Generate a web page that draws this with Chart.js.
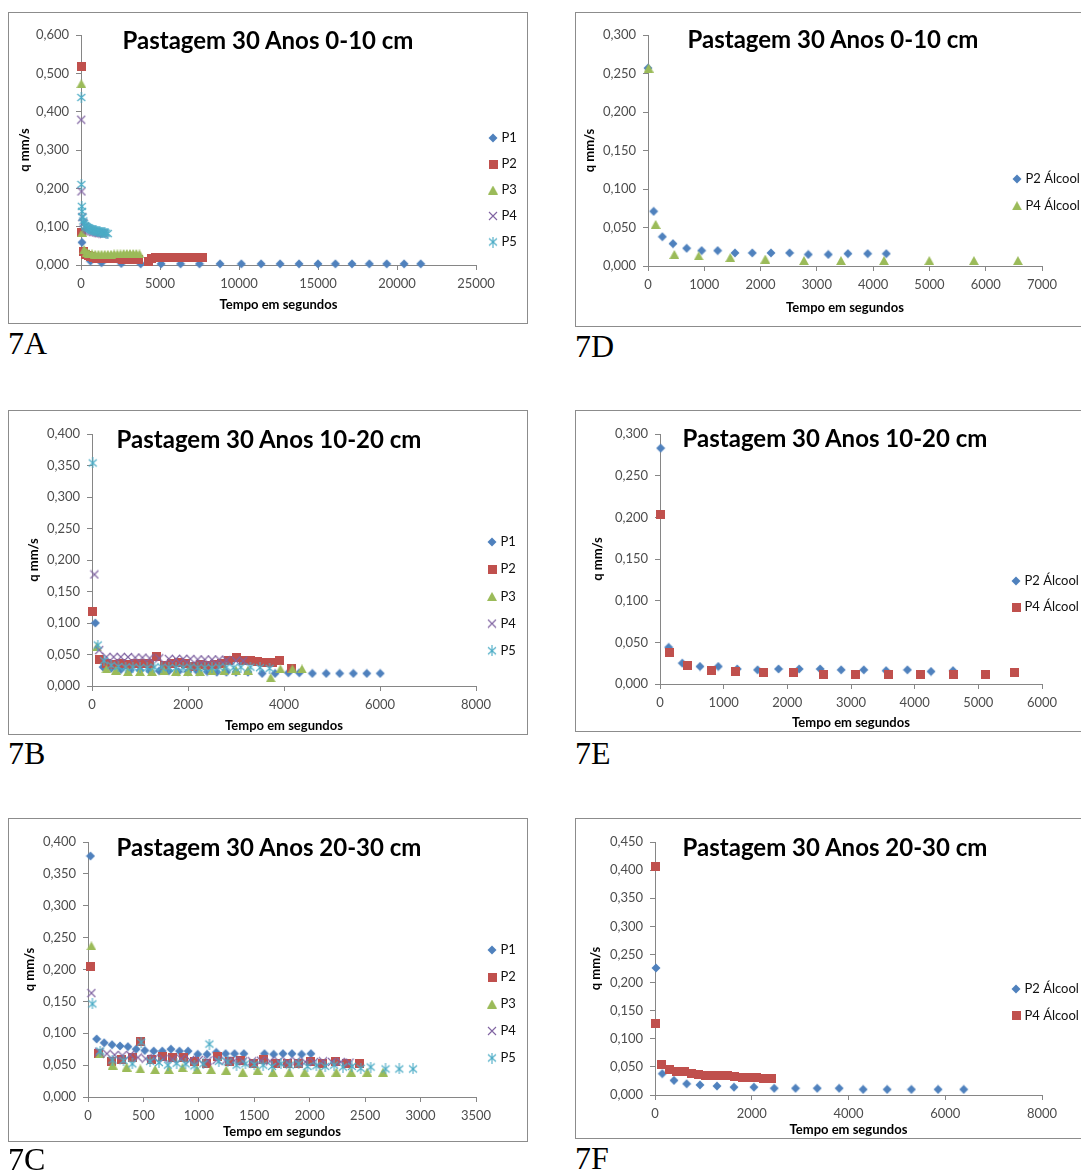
<!DOCTYPE html>
<html>
<head>
<meta charset="utf-8">
<script src="https://cdn.jsdelivr.net/npm/chart.js"></script>
<style>
  html, body { margin: 0; padding: 0; background: #fff; }
  body { position: relative; width: 1081px; height: 1171px; overflow: hidden; }
  canvas.plot { position: absolute; }
  .frame { position: absolute; border: 1px solid #8c8c8c; box-sizing: border-box; pointer-events: none; }
  .ttl { position: absolute; font: bold 24px Lato, sans-serif; line-height: 1; color: #000; white-space: nowrap; transform: translate(-50%, -50%); }
  .fig { position: absolute; font: 32px 'Liberation Serif', serif; line-height: 32px; color: #000; }
</style>
</head>
<body>
<script>
// 7A - Pastagem 30 Anos 0-10 cm (tempo em s, q em mm/s)
const a_p1_t = [60, 600, 1300, 2550, 3780, 5070, 6300, 7500, 8800, 10150, 11400, 12600, 13800, 15000, 16100, 17150, 18250, 19350, 20450, 21500];
const a_p1_q = [0.059, 0.010, 0.006, 0.004, 0.003, 0.003, 0.003, 0.003, 0.003, 0.003, 0.003, 0.003, 0.003, 0.003, 0.003, 0.003, 0.003, 0.003, 0.003, 0.003];
const a_p2_t = [20, 60, 150, 300, 450, 600, 800, 1000, 1200, 1400, 1600, 1800, 2000, 2200, 2400, 2650, 2900, 3150, 3400, 3650, 4250, 4450, 4700, 4950, 5200, 5450, 5700, 5950, 6200, 6450, 6700, 6950, 7200, 7450, 7700];
const a_p2_q = [0.517, 0.085, 0.034, 0.028, 0.024, 0.021, 0.019, 0.018, 0.018, 0.018, 0.017, 0.017, 0.017, 0.016, 0.016, 0.015, 0.014, 0.014, 0.014, 0.014, 0.008, 0.018, 0.019, 0.019, 0.019, 0.019, 0.019, 0.019, 0.019, 0.019, 0.019, 0.019, 0.019, 0.019, 0.019];
const a_p3_t = [20, 80, 200, 350, 500, 700, 900, 1100, 1300, 1500, 1700, 1900, 2100, 2300, 2500, 2700, 2900, 3100, 3300, 3500, 3700];
const a_p3_q = [0.473, 0.085, 0.040, 0.033, 0.030, 0.029, 0.028, 0.028, 0.028, 0.028, 0.028, 0.028, 0.029, 0.029, 0.029, 0.030, 0.030, 0.030, 0.030, 0.030, 0.029];
const a_p4_t = [15, 30, 80, 150, 250, 350, 450, 550, 650, 750, 850, 950, 1050, 1150, 1250, 1350, 1450];
const a_p4_q = [0.379, 0.192, 0.125, 0.110, 0.100, 0.095, 0.092, 0.090, 0.088, 0.087, 0.086, 0.085, 0.084, 0.083, 0.083, 0.082, 0.082];
const a_p5_t = [20, 25, 50, 70, 100, 150, 200, 270, 340, 410, 480, 550, 620, 700, 780, 860, 940, 1020, 1100, 1180, 1260, 1340, 1420, 1500, 1600, 1700];
const a_p5_q = [0.437, 0.210, 0.153, 0.140, 0.125, 0.115, 0.108, 0.103, 0.100, 0.098, 0.096, 0.095, 0.093, 0.092, 0.091, 0.090, 0.089, 0.088, 0.087, 0.087, 0.086, 0.085, 0.085, 0.084, 0.083, 0.082];

// 7D - Pastagem 30 Anos 0-10 cm, álcool
const d_p2_t = [0, 100, 255, 444, 687, 953, 1237, 1545, 1853, 2185, 2516, 2848, 3203, 3552, 3902, 4233];
const d_p2_q = [0.257, 0.071, 0.038, 0.029, 0.023, 0.020, 0.020, 0.017, 0.017, 0.017, 0.017, 0.015, 0.015, 0.016, 0.016, 0.016];
const d_p4_t = [10, 136, 468, 900, 1462, 2084, 2771, 3428, 4192, 4997, 5790, 6572];
const d_p4_q = [0.257, 0.054, 0.015, 0.013, 0.011, 0.009, 0.007, 0.007, 0.007, 0.007, 0.007, 0.007];

// 7B - Pastagem 30 Anos 10-20 cm
const b_p1_t = [70, 230, 400, 600, 800, 1000, 1200, 1400, 1600, 1800, 2000, 2200, 2400, 2600, 2800, 3000, 3250, 3545, 3815, 4090, 4320, 4590, 4880, 5160, 5445, 5725, 6005];
const b_p1_q = [0.100, 0.030, 0.028, 0.026, 0.025, 0.025, 0.024, 0.024, 0.024, 0.023, 0.023, 0.023, 0.023, 0.022, 0.022, 0.022, 0.022, 0.020, 0.020, 0.021, 0.021, 0.020, 0.020, 0.020, 0.020, 0.020, 0.020];
const b_p2_t = [15, 150, 300, 450, 600, 750, 900, 1050, 1200, 1350, 1500, 1650, 1800, 1950, 2100, 2250, 2400, 2550, 2700, 2850, 3000, 3150, 3300, 3450, 3600, 3750, 3900, 4150];
const b_p2_q = [0.119, 0.042, 0.036, 0.034, 0.035, 0.034, 0.035, 0.036, 0.036, 0.047, 0.033, 0.035, 0.038, 0.036, 0.031, 0.034, 0.033, 0.034, 0.036, 0.041, 0.046, 0.040, 0.040, 0.039, 0.038, 0.038, 0.041, 0.028];
const b_p3_t = [100, 300, 500, 750, 1000, 1250, 1500, 1750, 2000, 2250, 2500, 2750, 3000, 3250, 3723, 3925, 4175, 4375];
const b_p3_q = [0.062, 0.027, 0.025, 0.023, 0.023, 0.023, 0.024, 0.023, 0.023, 0.023, 0.024, 0.024, 0.025, 0.025, 0.013, 0.027, 0.027, 0.027];
const b_p4_t = [50, 150, 300, 450, 600, 750, 900, 1050, 1200, 1400, 1600, 1750, 1900, 2050, 2200, 2350, 2500, 2650, 2800, 3000, 3150];
const b_p4_q = [0.177, 0.057, 0.046, 0.046, 0.046, 0.046, 0.045, 0.045, 0.044, 0.044, 0.043, 0.043, 0.043, 0.043, 0.042, 0.042, 0.042, 0.042, 0.041, 0.040, 0.040];
const b_p5_t = [15, 120, 250, 400, 550, 700, 850, 1000, 1150, 1300, 1450, 1600, 1750, 1900, 2050, 2200, 2350, 2500, 2650, 2800, 2950, 3100, 3300, 3500, 3700];
const b_p5_q = [0.354, 0.065, 0.040, 0.033, 0.031, 0.030, 0.030, 0.029, 0.029, 0.030, 0.030, 0.029, 0.029, 0.029, 0.030, 0.029, 0.029, 0.029, 0.030, 0.030, 0.029, 0.030, 0.030, 0.029, 0.028];

// 7E - Pastagem 30 Anos 10-20 cm, álcool
const e_p2_t = [10, 136, 350, 628, 915, 1213, 1532, 1862, 2186, 2516, 2845, 3201, 3551, 3886, 4257, 4603];
const e_p2_q = [0.283, 0.044, 0.025, 0.021, 0.021, 0.018, 0.017, 0.018, 0.018, 0.018, 0.017, 0.017, 0.016, 0.017, 0.015, 0.016];
const e_p4_t = [0, 152, 434, 811, 1192, 1632, 2092, 2568, 3075, 3583, 4095, 4613, 5110, 5565];
const e_p4_q = [0.203, 0.038, 0.022, 0.016, 0.015, 0.014, 0.014, 0.012, 0.012, 0.012, 0.012, 0.012, 0.012, 0.014];

// 7C - Pastagem 30 Anos 20-30 cm
const c_p1_t = [22, 78, 146, 217, 289, 360, 434, 512, 593, 670, 748, 825, 903, 990, 1074, 1157, 1241, 1322, 1406, 1592, 1675, 1759, 1840, 1927, 2011];
const c_p1_q = [0.378, 0.091, 0.085, 0.082, 0.080, 0.079, 0.075, 0.073, 0.072, 0.072, 0.075, 0.072, 0.072, 0.067, 0.067, 0.070, 0.068, 0.068, 0.068, 0.068, 0.067, 0.068, 0.068, 0.067, 0.068];
const c_p2_t = [22, 93, 208, 301, 403, 472, 574, 673, 760, 859, 962, 1070, 1170, 1272, 1374, 1489, 1585, 1691, 1800, 1902, 2011, 2119, 2234, 2336, 2451];
const c_p2_q = [0.204, 0.069, 0.055, 0.059, 0.062, 0.087, 0.059, 0.064, 0.062, 0.062, 0.056, 0.052, 0.063, 0.056, 0.057, 0.053, 0.059, 0.053, 0.053, 0.053, 0.056, 0.053, 0.055, 0.052, 0.052];
const c_p3_t = [31, 109, 223, 348, 472, 605, 729, 853, 984, 1111, 1247, 1396, 1530, 1669, 1815, 1955, 2094, 2240, 2374, 2519, 2662];
const c_p3_q = [0.237, 0.068, 0.050, 0.047, 0.044, 0.043, 0.043, 0.046, 0.043, 0.043, 0.042, 0.039, 0.042, 0.039, 0.039, 0.039, 0.039, 0.039, 0.039, 0.039, 0.039];
const c_p4_t = [31, 100, 170, 240, 310, 380, 450, 520, 600, 680, 760, 840, 920, 1000, 1080, 1160, 1240, 1320, 1400, 1480, 1560, 1640, 1720, 1800, 1880, 1960, 2040, 2120, 2200, 2280, 2360];
const c_p4_q = [0.163, 0.071, 0.068, 0.066, 0.065, 0.066, 0.062, 0.060, 0.061, 0.060, 0.059, 0.060, 0.058, 0.058, 0.057, 0.058, 0.057, 0.057, 0.056, 0.056, 0.057, 0.056, 0.056, 0.055, 0.056, 0.055, 0.055, 0.056, 0.055, 0.055, 0.054];
const c_p5_t = [40, 110, 220, 320, 400, 480, 560, 640, 720, 800, 880, 960, 1040, 1095, 1180, 1260, 1340, 1420, 1500, 1580, 1660, 1740, 1820, 1900, 1980, 2060, 2140, 2220, 2300, 2380, 2460, 2550, 2684, 2808, 2932];
const c_p5_q = [0.146, 0.072, 0.058, 0.057, 0.052, 0.086, 0.056, 0.054, 0.050, 0.053, 0.052, 0.049, 0.052, 0.083, 0.056, 0.055, 0.050, 0.052, 0.051, 0.050, 0.048, 0.052, 0.050, 0.052, 0.048, 0.049, 0.048, 0.050, 0.047, 0.048, 0.045, 0.047, 0.044, 0.044, 0.044];

// 7F - Pastagem 30 Anos 20-30 cm, álcool
const f_p2_t = [20, 151, 392, 654, 929, 1281, 1632, 2045, 2465, 2905, 3353, 3807, 4303, 4799, 5301, 5852, 6382];
const f_p2_q = [0.226, 0.038, 0.026, 0.020, 0.018, 0.016, 0.014, 0.014, 0.012, 0.012, 0.012, 0.012, 0.010, 0.010, 0.010, 0.010, 0.010];
const f_p4_t = [5, 20, 140, 300, 450, 600, 750, 900, 1050, 1200, 1350, 1500, 1650, 1800, 1950, 2100, 2250, 2400];
const f_p4_q = [0.407, 0.128, 0.054, 0.046, 0.042, 0.041, 0.038, 0.036, 0.035, 0.034, 0.034, 0.035, 0.033, 0.031, 0.031, 0.031, 0.030, 0.030];

// cores das séries (paleta do Excel)
const BLUE = '#4F81BD', RED = '#C0504D', GREEN = '#9BBB59', PURPLE = '#8064A2', AQUA = '#4BACC6';
const AXIS = '#868686', TICK = '#4d4d4d';
const FS = 13; // tamanho da fonte dos rótulos e da legenda

Chart.defaults.font.family = 'Lato, "Open Sans", sans-serif';
Chart.defaults.animation = false;

// marcadores desenhados em canvas pequenos, usados como pointStyle
function marker(w, h, paint) {
  const c = document.createElement('canvas');
  c.width = w; c.height = h;
  paint(c.getContext('2d'));
  return c;
}
const mDiamond = marker(10, 10, g => {
  g.fillStyle = BLUE; g.beginPath();
  g.moveTo(5, 0.5); g.lineTo(9.5, 5); g.lineTo(5, 9.5); g.lineTo(0.5, 5); g.closePath(); g.fill();
});
const mSquare = marker(9, 9, g => { g.fillStyle = RED; g.fillRect(0, 0, 9, 9); });
const mTriangle = marker(10, 9, g => {
  g.fillStyle = GREEN; g.beginPath();
  g.moveTo(5, 0); g.lineTo(10, 9); g.lineTo(0, 9); g.closePath(); g.fill();
});
const mCross = marker(10, 10, g => {
  g.strokeStyle = PURPLE; g.lineWidth = 1.1; g.beginPath();
  g.moveTo(1, 1); g.lineTo(9, 9); g.moveTo(9, 1); g.lineTo(1, 9); g.stroke();
});
const mStar = marker(10, 11, g => {
  g.strokeStyle = AQUA; g.lineWidth = 1.1; g.beginPath();
  g.moveTo(1, 2); g.lineTo(9, 9); g.moveTo(9, 2); g.lineTo(1, 9);
  g.moveTo(5, 0); g.lineTo(5, 11); g.stroke();
});

function pts(t, q) { return t.map((x, i) => ({ x: x, y: q[i] })); }

// posiciona a legenda à direita, fora do cálculo da área do gráfico
const legendPlace = {
  id: 'legendPlace',
  afterLayout(chart, args, opts) {
    const lg = chart.legend;
    if (!lg || opts.x == null) return;
    const pad = lg.options.labels.padding;
    lg.left = opts.x - 2 - pad;
    lg.right = lg.left + 200;
    lg.top = opts.y - FS / 2 - pad;
    lg.bottom = lg.top + 600;
  }
};

function makeChart(c) {
  const W = c.box.w, H = c.box.h;
  const cv = document.createElement('canvas');
  cv.className = 'plot';
  cv.width = W; cv.height = H;
  cv.style.left = c.box.x + 'px'; cv.style.top = c.box.y + 'px';
  document.body.appendChild(cv);

  const fr = document.createElement('div');
  fr.className = 'frame';
  Object.assign(fr.style, { left: c.box.x + 'px', top: c.box.y + 'px', width: W + 'px', height: H + 'px' });
  document.body.appendChild(fr);

  const tt = document.createElement('div');
  tt.className = 'ttl';
  tt.textContent = c.title;
  tt.style.left = (c.box.x + c.titlePos[0]) + 'px';
  tt.style.top = (c.box.y + c.titlePos[1]) + 'px';
  document.body.appendChild(tt);

  const fg = document.createElement('div');
  fg.className = 'fig';
  fg.textContent = c.fig;
  fg.style.left = c.figPos[0] + 'px';
  fg.style.top = c.figPos[1] + 'px';
  document.body.appendChild(fg);

  const n = c.series.length;
  const datasets = c.series.map((s, i) => ({
    label: s.label,
    data: pts(s.t, s.q),
    pointStyle: s.mark,
    pointRadius: 5,
    pointHoverRadius: 5,
    backgroundColor: s.color,
    borderColor: s.color,
    clip: false,
    order: n - i
  }));

  new Chart(cv, {
    type: 'scatter',
    data: { datasets },
    plugins: [legendPlace],
    options: {
      responsive: false,
      animation: false,
      layout: { padding: { left: 0, top: c.plot.t, right: W - c.plot.r - 1, bottom: 0 } },
      scales: {
        x: {
          type: 'linear', min: 0, max: c.xMax,
          ticks: {
            stepSize: c.xStep, autoSkip: false, maxRotation: 0, padding: 6,
            color: TICK, font: { size: FS },
            callback: v => String(v)
          },
          grid: { drawOnChartArea: false, drawTicks: true, tickLength: 5, color: AXIS },
          border: { color: AXIS },
          title: {
            display: true, text: 'Tempo em segundos', color: '#000',
            font: { size: 13, weight: 'bold' },
            padding: { top: 0, bottom: H - c.xTitleY - 7.8 }
          },
          afterFit: s => { s.height = H - c.plot.b; }
        },
        y: {
          type: 'linear', min: 0, max: c.yMax,
          ticks: {
            stepSize: c.yStep, padding: 7,
            color: TICK, font: { size: FS },
            callback: v => v.toFixed(3).replace('.', ',')
          },
          grid: { drawOnChartArea: false, drawTicks: true, tickLength: 5, color: AXIS },
          border: { color: AXIS },
          title: {
            display: true, text: 'q mm/s', color: '#000',
            font: { size: 13, weight: 'bold' },
            padding: { top: c.yTitleX - 7.8, bottom: 0 }
          },
          afterFit: s => { s.width = c.plot.l; }
        }
      },
      plugins: {
        legend: {
          position: 'right', align: 'start', maxWidth: 1,
          labels: {
            usePointStyle: true, boxWidth: 4, boxHeight: 8,
            padding: c.legend.gap - FS, color: '#111', font: { size: FS },
            sort: (a, b) => a.datasetIndex - b.datasetIndex
          }
        },
        legendPlace: { x: c.legend.x, y: c.legend.y },
        tooltip: { enabled: false }
      }
    }
  });
}

const P = (label, t, q, mark, color) => ({ label, t, q, mark, color });

makeChart({
  fig: '7A', figPos: [8, 327],
  box: { x: 8, y: 12, w: 520, h: 312 },
  plot: { l: 73, r: 468, t: 23, b: 253 },
  title: 'Pastagem 30 Anos 0-10 cm', titlePos: [260, 28],
  xMax: 25000, xStep: 5000, yMax: 0.6, yStep: 0.1,
  yTitleX: 17, xTitleY: 293,
  legend: { x: 485, y: 126, gap: 26 },
  series: [
    P('P1', a_p1_t, a_p1_q, mDiamond, BLUE),
    P('P2', a_p2_t, a_p2_q, mSquare, RED),
    P('P3', a_p3_t, a_p3_q, mTriangle, GREEN),
    P('P4', a_p4_t, a_p4_q, mCross, PURPLE),
    P('P5', a_p5_t, a_p5_q, mStar, AQUA)
  ]
});

makeChart({
  fig: '7D', figPos: [575, 330],
  box: { x: 575, y: 12, w: 520, h: 315 },
  plot: { l: 73, r: 467, t: 23, b: 254 },
  title: 'Pastagem 30 Anos 0-10 cm', titlePos: [258, 27],
  xMax: 7000, xStep: 1000, yMax: 0.3, yStep: 0.05,
  yTitleX: 15, xTitleY: 296,
  legend: { x: 442, y: 167, gap: 26.7 },
  series: [
    P('P2 Álcool', d_p2_t, d_p2_q, mDiamond, BLUE),
    P('P4 Álcool', d_p4_t, d_p4_q, mTriangle, GREEN)
  ]
});

makeChart({
  fig: '7B', figPos: [8, 737],
  box: { x: 8, y: 410, w: 520, h: 325 },
  plot: { l: 84, r: 468, t: 24, b: 276 },
  title: 'Pastagem 30 Anos 10-20 cm', titlePos: [261, 29],
  xMax: 8000, xStep: 2000, yMax: 0.4, yStep: 0.05,
  yTitleX: 26, xTitleY: 316,
  legend: { x: 484, y: 132, gap: 27.2 },
  series: [
    P('P1', b_p1_t, b_p1_q, mDiamond, BLUE),
    P('P2', b_p2_t, b_p2_q, mSquare, RED),
    P('P3', b_p3_t, b_p3_q, mTriangle, GREEN),
    P('P4', b_p4_t, b_p4_q, mCross, PURPLE),
    P('P5', b_p5_t, b_p5_q, mStar, AQUA)
  ]
});

makeChart({
  fig: '7E', figPos: [575, 737],
  box: { x: 575, y: 410, w: 520, h: 322 },
  plot: { l: 85, r: 467, t: 24, b: 274 },
  title: 'Pastagem 30 Anos 10-20 cm', titlePos: [260, 28],
  xMax: 6000, xStep: 1000, yMax: 0.3, yStep: 0.05,
  yTitleX: 23, xTitleY: 313,
  legend: { x: 441, y: 171, gap: 26.3 },
  series: [
    P('P2 Álcool', e_p2_t, e_p2_q, mDiamond, BLUE),
    P('P4 Álcool', e_p4_t, e_p4_q, mSquare, RED)
  ]
});

makeChart({
  fig: '7C', figPos: [8, 1143],
  box: { x: 8, y: 818, w: 520, h: 324 },
  plot: { l: 80, r: 468, t: 24, b: 279 },
  title: 'Pastagem 30 Anos 20-30 cm', titlePos: [261, 29],
  xMax: 3500, xStep: 500, yMax: 0.4, yStep: 0.05,
  yTitleX: 22, xTitleY: 314,
  legend: { x: 484, y: 132, gap: 27 },
  series: [
    P('P1', c_p1_t, c_p1_q, mDiamond, BLUE),
    P('P2', c_p2_t, c_p2_q, mSquare, RED),
    P('P3', c_p3_t, c_p3_q, mTriangle, GREEN),
    P('P4', c_p4_t, c_p4_q, mCross, PURPLE),
    P('P5', c_p5_t, c_p5_q, mStar, AQUA)
  ]
});

makeChart({
  fig: '7F', figPos: [575, 1142],
  box: { x: 575, y: 818, w: 520, h: 321 },
  plot: { l: 80, r: 467, t: 24, b: 277 },
  title: 'Pastagem 30 Anos 20-30 cm', titlePos: [260, 29],
  xMax: 8000, xStep: 2000, yMax: 0.45, yStep: 0.05,
  yTitleX: 21, xTitleY: 312,
  legend: { x: 441, y: 171, gap: 26.7 },
  series: [
    P('P2 Álcool', f_p2_t, f_p2_q, mDiamond, BLUE),
    P('P4 Álcool', f_p4_t, f_p4_q, mSquare, RED)
  ]
});
</script>
</body>
</html>
